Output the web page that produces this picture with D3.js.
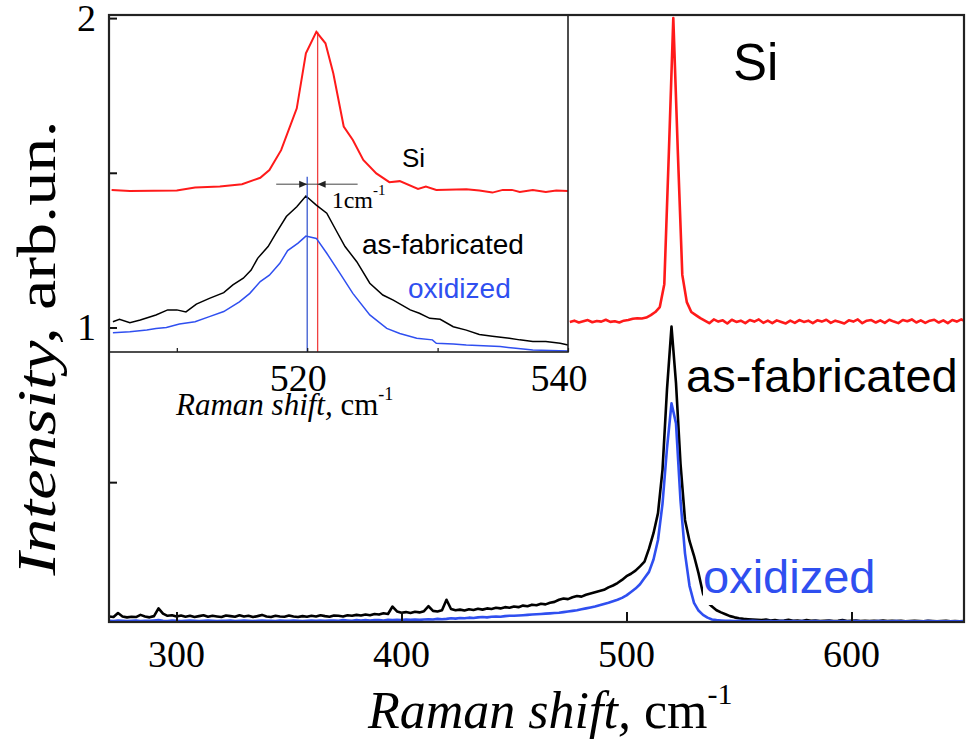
<!DOCTYPE html>
<html>
<head>
<meta charset="utf-8">
<script src="https://cdn.jsdelivr.net/npm/d3@7"></script>
<style>
body { margin: 0; background: #fff; }
</style>
</head>
<body>
<svg id="chart" width="969" height="743"></svg>
<script>
// ---- data: main spectra (Raman shift grid, cm-1) ----
var fabShift = d3.range(270, 651, 2);          // as-fabricated / oxidized sampling
var siShift = d3.range(474.8, 651, 2);         // Si reference sampling (visible part)

var asFabricated = [
	0.066,0.064,0.077,0.066,0.063,0.065,0.064,0.071,0.066,0.063,
	0.067,0.092,0.075,0.068,0.070,0.066,0.069,0.065,0.068,0.064,
	0.067,0.070,0.065,0.068,0.066,0.064,0.069,0.067,0.065,0.070,
	0.066,0.068,0.064,0.067,0.071,0.066,0.064,0.068,0.066,0.065,
	0.069,0.066,0.064,0.067,0.065,0.068,0.066,0.070,0.067,0.065,
	0.069,0.068,0.066,0.070,0.068,0.071,0.069,0.072,0.070,0.074,
	0.072,0.076,0.074,0.098,0.082,0.078,0.080,0.077,0.081,0.079,
	0.083,0.099,0.084,0.082,0.086,0.120,0.090,0.086,0.088,0.085,
	0.089,0.087,0.091,0.088,0.092,0.090,0.094,0.092,0.096,0.094,
	0.098,0.096,0.101,0.099,0.104,0.102,0.107,0.105,0.110,0.113,
	0.120,0.124,0.122,0.128,0.132,0.130,0.136,0.140,0.144,0.148,
	0.152,0.160,0.166,0.174,0.184,0.196,0.204,0.214,0.228,0.243,
	0.285,0.335,0.400,0.540,0.800,1.003,0.820,0.560,0.378,0.310,
	0.262,0.206,0.140,0.112,0.098,0.086,0.079,0.073,0.067,0.063,
	0.060,0.058,0.057,0.056,0.055,0.054,0.056,0.053,0.054,0.052,
	0.053,0.055,0.052,0.053,0.051,0.054,0.052,0.053,0.051,0.052,
	0.053,0.051,0.052,0.054,0.051,0.052,0.053,0.051,0.052,0.051,
	0.052,0.051,0.053,0.051,0.052,0.051,0.052,0.050,0.051,0.052,
	0.051,0.050,0.052,0.051,0.050,0.051,0.052,0.050,0.051,0.050,
	0.051
];

var oxidized = [
	0.052,0.051,0.053,0.052,0.051,0.052,0.053,0.051,0.052,0.052,
	0.053,0.054,0.052,0.051,0.053,0.052,0.051,0.052,0.053,0.052,
	0.051,0.052,0.053,0.052,0.051,0.052,0.052,0.053,0.051,0.052,
	0.053,0.052,0.051,0.052,0.053,0.052,0.052,0.051,0.053,0.052,
	0.052,0.053,0.052,0.051,0.052,0.053,0.052,0.053,0.052,0.053,
	0.053,0.052,0.054,0.053,0.052,0.054,0.053,0.054,0.053,0.054,
	0.054,0.053,0.055,0.054,0.055,0.054,0.056,0.055,0.056,0.055,
	0.056,0.057,0.056,0.058,0.057,0.058,0.060,0.059,0.061,0.060,
	0.062,0.061,0.063,0.064,0.063,0.065,0.066,0.065,0.067,0.068,
	0.068,0.069,0.070,0.071,0.072,0.073,0.074,0.075,0.076,0.077,
	0.078,0.080,0.082,0.084,0.086,0.089,0.092,0.095,0.098,0.102,
	0.106,0.110,0.115,0.120,0.126,0.134,0.145,0.156,0.170,0.190,
	0.210,0.250,0.313,0.430,0.610,0.755,0.690,0.440,0.270,0.165,
	0.110,0.085,0.071,0.062,0.056,0.054,0.053,0.052,0.052,0.051,
	0.052,0.051,0.051,0.052,0.051,0.050,0.051,0.051,0.050,0.051,
	0.051,0.050,0.051,0.050,0.051,0.050,0.050,0.051,0.050,0.050,
	0.051,0.050,0.050,0.051,0.050,0.050,0.051,0.050,0.050,0.050,
	0.050,0.051,0.050,0.050,0.050,0.051,0.050,0.050,0.050,0.050,
	0.050,0.050,0.051,0.050,0.050,0.050,0.050,0.050,0.050,0.050,
	0.050
];

var siRef = [
	1.018,1.022,1.016,1.020,1.024,1.017,1.021,1.019,1.025,1.018,
	1.020,1.016,1.022,1.024,1.028,1.030,1.029,1.032,1.040,1.050,
	1.066,1.140,1.560,2.000,1.570,1.170,1.082,1.050,1.040,1.030,
	1.022,1.014,1.026,1.019,1.023,1.013,1.025,1.018,1.022,1.014,
	1.024,1.019,1.026,1.015,1.022,1.014,1.023,1.018,1.013,1.022,
	1.015,1.024,1.018,1.022,1.014,1.023,1.019,1.025,1.015,1.022,
	1.018,1.013,1.023,1.019,1.026,1.014,1.022,1.024,1.016,1.023,
	1.015,1.025,1.019,1.014,1.024,1.020,1.026,1.016,1.023,1.015,
	1.022,1.025,1.016,1.023,1.014,1.024,1.019,1.026,1.020
];

// ---- data: inset (zoom near 520 cm-1), [shift, relative intensity] ----
var insetSi = [
	[505.0,0.481],[506.4,0.478],[510.0,0.479],[511.4,0.488],[513.3,0.491],[515.0,0.498],
	[516.4,0.517],[517.1,0.540],[518.0,0.599],[519.2,0.723],[519.9,0.886],[520.7,0.950],
	[521.4,0.916],[522.0,0.827],[522.8,0.669],[523.5,0.629],[524.3,0.570],[525.3,0.530],
	[526.3,0.504],[527.1,0.507],[528.5,0.484],[529.1,0.491],[529.9,0.481],[532.2,0.483],
	[533.2,0.479],[534.2,0.473],[535.0,0.481],[535.7,0.481],[536.3,0.475],[537.3,0.481],
	[538.3,0.475],[539.1,0.479],[540.0,0.478]
];
var insetFab = [
	[505.1,0.090],[505.6,0.097],[506.4,0.087],[507.2,0.095],[508.4,0.110],[509.3,0.125],
	[510.0,0.125],[510.7,0.119],[511.5,0.142],[512.5,0.159],[513.6,0.176],[514.3,0.199],
	[515.1,0.219],[515.7,0.243],[516.2,0.278],[517.0,0.313],[517.6,0.352],[518.4,0.402],
	[519.2,0.431],[519.9,0.463],[520.7,0.436],[521.5,0.412],[522.2,0.362],[522.9,0.313],
	[523.8,0.268],[524.8,0.204],[525.8,0.169],[526.6,0.154],[527.9,0.125],[528.6,0.115],
	[529.4,0.100],[530.2,0.097],[531.2,0.075],[532.2,0.065],[533.2,0.052],[534.2,0.047],
	[535.5,0.041],[536.3,0.036],[537.3,0.031],[538.3,0.031],[539.4,0.026],[540.0,0.021]
];
var insetOx = [
	[505.1,0.057],[506.4,0.060],[507.7,0.065],[508.4,0.070],[509.2,0.073],[510.2,0.083],
	[511.4,0.090],[512.5,0.105],[513.6,0.120],[514.8,0.149],[515.6,0.174],[516.4,0.209],
	[517.1,0.228],[517.9,0.263],[518.5,0.301],[519.3,0.323],[519.9,0.344],[520.7,0.337],
	[521.5,0.293],[522.5,0.234],[523.5,0.174],[524.8,0.110],[526.1,0.070],[527.1,0.055],
	[528.4,0.041],[529.6,0.036],[529.9,0.026],[531.2,0.024],[532.2,0.021],[534.8,0.016],
	[536.0,0.011],[537.3,0.006],[540.0,0.003]
];
var peakFab = 520.0, peakSi = 520.8;   // marked peak positions in the inset

var xTicks = [300, 400, 500, 600];
var yTicks = [0.5, 1, 1.5, 2];
var yLabels = [1, 2];
var insetTicks = [510, 520, 530, 540];
var insetLabels = [520, 540];

var RED = "#ff1a1a", BLUE = "#2f4ff0", BLACK = "#000";
var SERIF = "Liberation Serif";
var SANS = "Liberation Sans";

// ---- layout ----
var svg = d3.select("#chart");
var m = { left: 109, top: 15, right: 964, bottom: 622 };
var inset = { left: 109, top: 15, right: 568, bottom: 352 };

var x = d3.scaleLinear().domain([270, 650]).range([m.left, m.right]);
var y = d3.scaleLinear().domain([0.048, 2.01]).range([m.bottom, m.top]);
var ix = d3.scaleLinear().domain([504.8, 540]).range([inset.left, inset.right]);
var iy = d3.scaleLinear().domain([0, 1]).range([inset.bottom, inset.top]);

svg.append("defs").append("clipPath").attr("id", "clipMain")
	.append("rect").attr("x", m.left).attr("y", m.top)
	.attr("width", m.right - m.left).attr("height", m.bottom - m.top);

var line = d3.line().x(function(d) { return x(d[0]); }).y(function(d) { return y(d[1]); });
var iline = d3.line().x(function(d) { return ix(d[0]); }).y(function(d) { return iy(d[1]); });

function pairs(xs, ys) { return ys.map(function(v, i) { return [xs[i], v]; }); }

function label(g, px, py, size, family) {
	return g.append("text").attr("x", px).attr("y", py)
		.attr("font-family", family).attr("font-size", size);
}

// tick labels drawn by hand so the serif face sticks
function tickLabels(g, vals, fx, fy, anchor, dx) {
	g.selectAll(null).data(vals).enter().append("text")
		.attr("x", function(d) { return fx(d) + (dx || 0); })
		.attr("y", function(d) { return fy(d); })
		.attr("text-anchor", anchor)
		.attr("font-family", SERIF).attr("font-size", 38).attr("fill", "#000")
		.text(function(d) { return d; });
}

var plot = svg.append("g").attr("clip-path", "url(#clipMain)");
plot.append("path").datum(pairs(siShift, siRef)).attr("d", line)
	.attr("fill", "none").attr("stroke", RED).attr("stroke-width", 2.6).attr("stroke-linejoin", "round");
plot.append("path").datum(pairs(fabShift, asFabricated)).attr("d", line)
	.attr("fill", "none").attr("stroke", BLACK).attr("stroke-width", 2.6).attr("stroke-linejoin", "round");
plot.append("path").datum(pairs(fabShift, oxidized)).attr("d", line)
	.attr("fill", "none").attr("stroke", BLUE).attr("stroke-width", 2.6).attr("stroke-linejoin", "round");

// ---- inset ----
var ig = svg.append("g");
ig.append("rect").attr("x", inset.left).attr("y", inset.top)
	.attr("width", inset.right - inset.left).attr("height", inset.bottom - inset.top)
	.attr("fill", "#fff");

ig.append("line").attr("x1", ix(peakSi)).attr("x2", ix(peakSi))
	.attr("y1", iy(0.95)).attr("y2", inset.bottom).attr("stroke", "#f04040").attr("stroke-width", 1.3);
ig.append("path").datum(insetSi).attr("d", iline)
	.attr("fill", "none").attr("stroke", RED).attr("stroke-width", 2);
ig.append("path").datum(insetFab).attr("d", iline)
	.attr("fill", "none").attr("stroke", BLACK).attr("stroke-width", 1.5);
ig.append("path").datum(insetOx).attr("d", iline)
	.attr("fill", "none").attr("stroke", BLUE).attr("stroke-width", 1.5);
ig.append("line").attr("x1", ix(peakFab)).attr("x2", ix(peakFab))
	.attr("y1", iy(0.52)).attr("y2", inset.bottom).attr("stroke", "#3a5ad0").attr("stroke-width", 1.3);

// 1 cm-1 arrows
var ay = iy(0.498);
ig.append("line").attr("x1", ix(peakFab) - 31).attr("x2", ix(peakSi) + 40)
	.attr("y1", ay).attr("y2", ay).attr("stroke", "#444").attr("stroke-width", 1);
ig.append("path")
	.attr("d", "M" + (ix(peakFab) - 8) + "," + (ay - 3.5) + "L" + ix(peakFab) + "," + ay + "L" + (ix(peakFab) - 8) + "," + (ay + 3.5) + "Z")
	.attr("fill", "#222");
ig.append("path")
	.attr("d", "M" + (ix(peakSi) + 8) + "," + (ay - 3.5) + "L" + ix(peakSi) + "," + ay + "L" + (ix(peakSi) + 8) + "," + (ay + 3.5) + "Z")
	.attr("fill", "#222");
var cm = label(ig, ix(peakSi) + 14, ay + 24, 24, SERIF);
cm.append("tspan").text("1cm");
cm.append("tspan").attr("font-size", 15).attr("dy", -13).text("-1");

var ixAxis = ig.append("g").attr("transform", "translate(0," + inset.bottom + ")")
	.call(d3.axisBottom(ix).tickValues(insetTicks).tickSize(-4).tickFormat(""));
ixAxis.select(".domain").remove();
ixAxis.selectAll(".tick line").attr("stroke", "#111").attr("stroke-width", 1.2);
tickLabels(ig, insetLabels, ix, function() { return 391; }, "middle", -9);

ig.append("rect").attr("x", inset.left).attr("y", inset.top)
	.attr("width", inset.right - inset.left).attr("height", inset.bottom - inset.top)
	.attr("fill", "none").attr("stroke", "#222").attr("stroke-width", 1.6);

label(ig, 402, 167, 26, SANS).text("Si");
label(ig, 362, 254, 28, SANS).text("as-fabricated");
label(ig, 408, 298, 28, SANS).attr("fill", BLUE).text("oxidized");

var il = label(ig, 176, 415, 31, SERIF);
il.append("tspan").attr("font-style", "italic").text("Raman shift,");
il.append("tspan").text(" cm");
il.append("tspan").attr("font-size", 18).attr("dy", -15).text("-1");

// ---- main axes (inward ticks), drawn over the inset like the original ----
var xAxis = svg.append("g").attr("transform", "translate(0," + m.bottom + ")")
	.call(d3.axisBottom(x).tickValues(xTicks).tickSize(-10).tickFormat(""));
var yAxis = svg.append("g").attr("transform", "translate(" + m.left + ",0)")
	.call(d3.axisLeft(y).tickValues(yTicks).tickSize(-8).tickFormat(""));
[xAxis, yAxis].forEach(function(g) {
	g.select(".domain").remove();
	g.selectAll(".tick line").attr("stroke", "#111").attr("stroke-width", 2);
});
tickLabels(svg, xTicks, x, function() { return 667; }, "middle", 0);
tickLabels(svg, yLabels, function() { return m.left - 13; }, function(d) { return y(d) + 13; }, "end", 0);

svg.append("rect").attr("x", m.left).attr("y", m.top)
	.attr("width", m.right - m.left).attr("height", m.bottom - m.top)
	.attr("fill", "none").attr("stroke", "#222").attr("stroke-width", 2.2);

// ---- main labels ----
label(svg, 733, 80, 51, SANS).text("Si");
label(svg, 686, 392, 47, SANS).text("as-fabricated");
var ox = label(svg, 703, 593, 47, SANS).attr("fill", BLUE).text("oxidized");
var bb = ox.node().getBBox();
svg.insert("rect", function() { return ox.node(); })
	.attr("x", bb.x).attr("y", bb.y + 6).attr("width", bb.width).attr("height", bb.height - 4).attr("fill", "#fff");

var xl = label(svg, 368, 728, 52, SERIF);
xl.append("tspan").attr("font-style", "italic").text("Raman shift,");
xl.append("tspan").text(" cm");
xl.append("tspan").attr("font-size", 30).attr("dy", -24).text("-1");

var yl = svg.append("text").attr("transform", "translate(55,348) rotate(-90)")
	.attr("text-anchor", "middle").attr("textLength", 455).attr("lengthAdjust", "spacingAndGlyphs")
	.attr("font-family", SERIF).attr("font-size", 55);
yl.append("tspan").attr("font-style", "italic").text("Intensity,");
yl.append("tspan").text(" arb.un.");
</script>
</body>
</html>
